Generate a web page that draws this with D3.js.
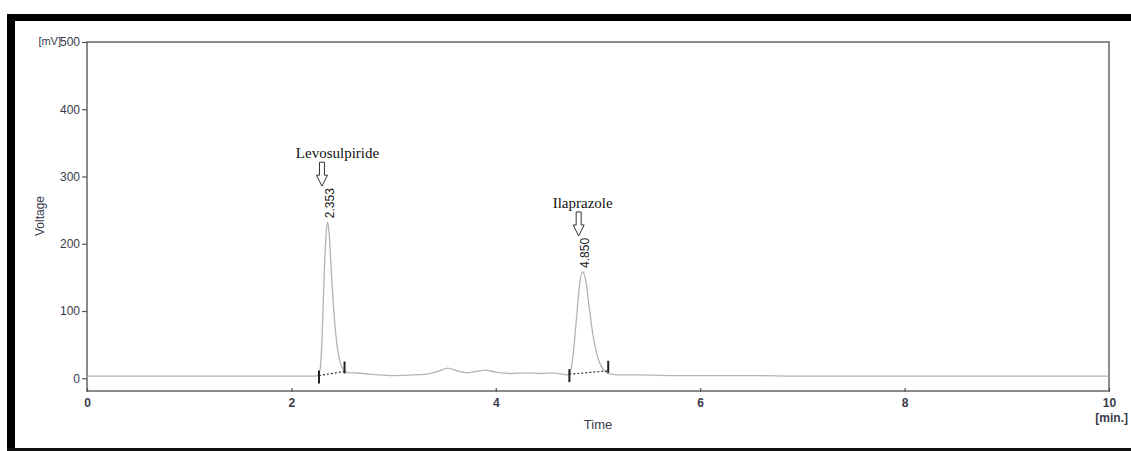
<!DOCTYPE html>
<html>
<head>
<meta charset="utf-8">
<script src="https://cdn.jsdelivr.net/npm/d3@7"></script>
<style>
  body { margin: 0; background: #fff; }
  svg { display: block; }
  .tick text { font-family: "Liberation Sans", Arial, sans-serif; font-size: 12px; fill: #3a3a4a; }
</style>
</head>
<body>
<div id="svg-container"></div>
<script>
////////////////////////////  Data  ////////////////////////////

// chromatogram trace (time in min, signal in mV)
const times = [
  0, 0.5, 1.0, 1.5, 2.0, 2.2, 2.25, 2.28, 2.30, 2.32, 2.34, 2.355, 2.37, 2.39,
  2.42, 2.45, 2.48, 2.52, 2.56, 2.62, 2.7, 2.85, 3.0, 3.2, 3.35, 3.45, 3.53,
  3.62, 3.72, 3.8, 3.9, 4.0, 4.15, 4.3, 4.45, 4.55, 4.65, 4.70, 4.73, 4.76,
  4.79, 4.82, 4.85, 4.88, 4.91, 4.95, 4.99, 5.03, 5.07, 5.12, 5.2, 5.4, 5.7,
  6.0, 6.5, 7.0, 7.5, 8.0, 8.5, 9.0, 9.5, 10.0
];
const voltage = [
  3, 3, 3, 3, 3, 3, 3.5, 12, 60, 150, 215, 232, 214, 160,
  90, 45, 22, 11, 8, 8, 7, 5, 4, 5, 7, 11, 15,
  11, 8, 10, 12, 9, 7, 8, 7, 8, 6, 5, 10, 40,
  90, 140, 158, 145, 110, 65, 35, 18, 10, 6, 5, 5, 4,
  4, 4, 3, 3, 3, 3, 3, 3, 3
];

// named peaks
const peakNames = ["Levosulpiride", "Ilaprazole"];
const peakTimes = [2.353, 4.850];
const peakLabels = ["2.353", "4.850"];
const peakTop = [232, 158];
// integration limits [start, end] and baseline values there
const peakStart = [2.27, 4.72];
const peakEnd = [2.52, 5.10];
const baseStart = [4, 6];
const baseEnd = [10, 11];

const xTicks = [0, 2, 4, 6, 8, 10];
const yTicks = [0, 100, 200, 300, 400, 500];

////////////////////////////  Init  ////////////////////////////

const width = 1131;
const height = 451;
const margin = { top: 42, right: 22, bottom: 60, left: 87 };

const svg = d3.select("#svg-container").append("svg")
  .attr("width", width)
  .attr("height", height);

// black frame of the scanned figure
svg.append("rect").attr("x", 7).attr("y", 14).attr("width", width - 7).attr("height", 7).attr("fill", "#000");
svg.append("rect").attr("x", 7).attr("y", 14).attr("width", 8).attr("height", height - 14).attr("fill", "#000");
svg.append("rect").attr("x", 7).attr("y", 448).attr("width", width - 7).attr("height", 3).attr("fill", "#111");

const xScale = d3.scaleLinear().domain([0, 10]).range([margin.left, width - margin.right]);
const yScale = d3.scaleLinear().domain([-19, 500]).range([height - margin.bottom, margin.top]);

// plot box
svg.append("rect")
  .attr("x", margin.left)
  .attr("y", margin.top)
  .attr("width", width - margin.right - margin.left)
  .attr("height", height - margin.bottom - margin.top)
  .attr("fill", "none")
  .attr("stroke", "#666")
  .attr("stroke-width", 1.5);

// axes
const xAxis = d3.axisBottom(xScale).tickValues(xTicks).tickSize(4).tickSizeOuter(0).tickPadding(4);
const yAxis = d3.axisLeft(yScale).tickValues(yTicks).tickSize(5).tickSizeOuter(0).tickPadding(2);

const gx = svg.append("g")
  .attr("class", "x-axis")
  .attr("transform", `translate(0, ${height - margin.bottom - 3})`)
  .call(xAxis);
gx.select(".domain").remove();
gx.selectAll(".tick line").attr("stroke", "#555").attr("stroke-width", 1.2);
gx.selectAll(".tick text").attr("font-weight", "bold").attr("dy", "0.9em");

const gy = svg.append("g")
  .attr("class", "y-axis")
  .attr("transform", `translate(${margin.left}, 0)`)
  .call(yAxis);
gy.select(".domain").remove();
gy.selectAll(".tick line").attr("stroke", "#555").attr("stroke-width", 1.2);

// axis titles
svg.append("text")
  .attr("x", 61)
  .attr("y", 45)
  .attr("text-anchor", "end")
  .attr("font-family", "Liberation Sans, Arial, sans-serif")
  .attr("font-size", 11)
  .attr("fill", "#3a3a4a")
  .text("[mV]");

svg.append("text")
  .attr("transform", "translate(44, 216) rotate(-90)")
  .attr("text-anchor", "middle")
  .attr("font-family", "Liberation Sans, Arial, sans-serif")
  .attr("font-size", 12)
  .attr("fill", "#3a3a4a")
  .text("Voltage");

svg.append("text")
  .attr("x", 598)
  .attr("y", 429)
  .attr("text-anchor", "middle")
  .attr("font-family", "Liberation Sans, Arial, sans-serif")
  .attr("font-size", 13)
  .attr("fill", "#3a3a4a")
  .text("Time");

svg.append("text")
  .attr("x", 1128)
  .attr("y", 422)
  .attr("text-anchor", "end")
  .attr("font-family", "Liberation Sans, Arial, sans-serif")
  .attr("font-size", 12)
  .attr("font-weight", "bold")
  .attr("fill", "#3a3a4a")
  .text("[min.]");

////////////////////////////  Trace  ////////////////////////////

const data = times.map((t, i) => ({ t: t, v: voltage[i] }));

const line = d3.line()
  .curve(d3.curveMonotoneX)
  .x((d) => xScale(d.t))
  .y((d) => yScale(d.v));

svg.append("path")
  .datum(data)
  .attr("d", line)
  .attr("fill", "none")
  .attr("stroke", "#b4b4b4")
  .attr("stroke-width", 1.3);

////////////////////////////  Peaks  ////////////////////////////

// small per-peak label shifts, as in the scan
const nameShift = [10, 0];
const arrowShift = [-5.5, -4];

peakNames.forEach((name, i) => {
  // integration baseline (dotted) and limit marks
  svg.append("line")
    .attr("x1", xScale(peakStart[i]))
    .attr("y1", yScale(baseStart[i]))
    .attr("x2", xScale(peakEnd[i]))
    .attr("y2", yScale(baseEnd[i]))
    .attr("stroke", "#333")
    .attr("stroke-width", 1.2)
    .attr("stroke-dasharray", "2,2");

  svg.append("line")
    .attr("x1", xScale(peakStart[i]))
    .attr("x2", xScale(peakStart[i]))
    .attr("y1", yScale(baseStart[i]) - 5)
    .attr("y2", yScale(baseStart[i]) + 8)
    .attr("stroke", "#222")
    .attr("stroke-width", 2);

  svg.append("line")
    .attr("x1", xScale(peakEnd[i]))
    .attr("x2", xScale(peakEnd[i]))
    .attr("y1", yScale(baseEnd[i]) - 10)
    .attr("y2", yScale(baseEnd[i]) + 2)
    .attr("stroke", "#222")
    .attr("stroke-width", 2);

  // retention time, rotated
  const px = xScale(peakTimes[i]);
  const topY = yScale(peakTop[i]);
  svg.append("text")
    .attr("transform", `translate(${px + 2}, ${topY - 4}) rotate(-90)`)
    .attr("text-anchor", "start")
    .attr("dy", "0.35em")
    .attr("font-family", "Liberation Sans, Arial, sans-serif")
    .attr("font-size", 12)
    .attr("fill", "#222")
    .text(peakLabels[i]);

  // hollow arrow
  const ax = px + arrowShift[i];
  const ay = topY - 36;
  const arrow = d3.path();
  arrow.moveTo(ax - 2.5, ay - 24);
  arrow.lineTo(ax + 2.5, ay - 24);
  arrow.lineTo(ax + 2.5, ay - 11);
  arrow.lineTo(ax + 5.5, ay - 11);
  arrow.lineTo(ax, ay);
  arrow.lineTo(ax - 5.5, ay - 11);
  arrow.lineTo(ax - 2.5, ay - 11);
  arrow.closePath();
  svg.append("path")
    .attr("d", arrow.toString())
    .attr("fill", "#fff")
    .attr("stroke", "#333")
    .attr("stroke-width", 1);

  svg.append("text")
    .attr("x", px + nameShift[i])
    .attr("y", ay - 28)
    .attr("text-anchor", "middle")
    .attr("font-family", "Liberation Serif, Times New Roman, serif")
    .attr("font-size", 15)
    .attr("fill", "#111")
    .text(name);
});
</script>
</body>
</html>
